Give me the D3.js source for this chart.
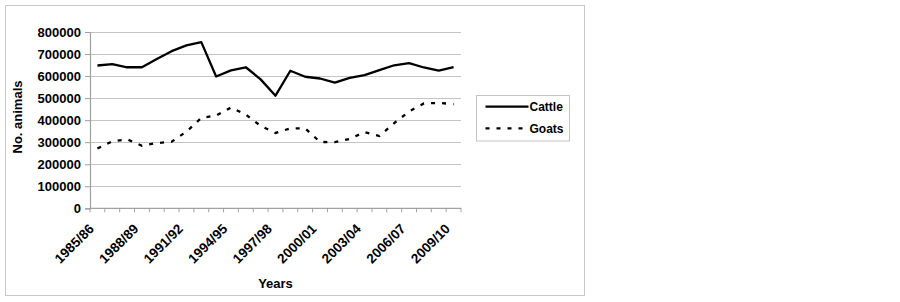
<!DOCTYPE html>
<html>
<head>
<meta charset="utf-8">
<script src="https://cdn.jsdelivr.net/npm/d3@7/dist/d3.min.js"></script>
<style>
  html, body { margin: 0; padding: 0; background: #fff; }
  svg text { font-family: "Liberation Sans", Arial, sans-serif; font-weight: bold; fill: #000; }
</style>
</head>
<body>
<svg id="chart" width="900" height="302"></svg>
<script>
const categories = ["1985/86","1986/87","1987/88","1988/89","1989/90","1990/91","1991/92","1992/93","1993/94","1994/95","1995/96","1996/97","1997/98","1998/99","1999/00","2000/01","2001/02","2002/03","2003/04","2004/05","2005/06","2006/07","2007/08","2008/09","2009/10"];
const cattle = [648000,654000,640000,640000,677000,713000,739000,754000,598000,626000,640000,585000,511000,624000,597000,589000,570000,592000,604000,627000,649000,659000,639000,625000,641000];
const goats  = [271000,304000,313000,284000,296000,302000,348000,410000,421000,457000,425000,374000,342000,363000,363000,301000,300000,315000,346000,328000,387000,439000,476000,478000,473000];
const yTicks = [0,100000,200000,300000,400000,500000,600000,700000,800000];
const xTickLabels = ["1985/86","1988/89","1991/92","1994/95","1997/98","2000/01","2003/04","2006/07","2009/10"];
const seriesNames = ["Cattle","Goats"];

(function () {
const svg = d3.select("#chart");

// outer chart border
svg.append("rect").attr("x",5.5).attr("y",5.5).attr("width",579).attr("height",290)
  .attr("fill","#fff").attr("stroke","#c8c8c8").attr("stroke-width",1);

const pL = 90, pR = 461, pT = 32, pB = 208.3;
const x = d3.scaleBand().domain(categories).range([pL, pR]).paddingInner(0).paddingOuter(0);
const y = d3.scaleLinear().domain([0, 800000]).range([pB, pT]);
const cx = c => x(c) + x.bandwidth()/2;

// gridlines
svg.append("g").selectAll("line").data(yTicks.filter(v => v > 0)).join("line")
  .attr("x1", pL).attr("x2", pR)
  .attr("y1", d => Math.round(y(d)) + 0.5).attr("y2", d => Math.round(y(d)) + 0.5)
  .attr("stroke", "#c4c4c4").attr("stroke-width", 1.2);

// y axis
const yAxis = d3.axisLeft(y).tickValues(yTicks).tickSize(5).tickPadding(4).tickFormat(d3.format("d"));
const gy = svg.append("g").attr("transform", `translate(${pL},0)`).call(yAxis);
gy.select(".domain").attr("stroke", "#a0a0a0").attr("stroke-width", 1.2);
gy.selectAll(".tick line").attr("stroke", "#a0a0a0");
gy.selectAll(".tick text").style("font-size", "13px").attr("font-weight", "bold")
  .attr("font-family", '"Liberation Sans", Arial, sans-serif').attr("fill", "#000");

// x axis line and ticks at category boundaries
svg.append("line").attr("x1", pL).attr("x2", pR).attr("y1", pB).attr("y2", pB)
  .attr("stroke", "#a0a0a0").attr("stroke-width", 1.2);
const boundaries = categories.map(c => x(c)).concat([pR]);
svg.append("g").selectAll("line").data(boundaries).join("line")
  .attr("x1", d => d).attr("x2", d => d).attr("y1", pB).attr("y2", pB + 4)
  .attr("stroke", "#a0a0a0");

// x tick labels rotated
svg.append("g").selectAll("text").data(xTickLabels).join("text")
  .attr("transform", d => `translate(${cx(d) - 6},${pB + 18}) rotate(-45)`)
  .attr("text-anchor", "end").attr("dy", "0.35em")
  .style("font-size", "13.5px").text(d => d);

// axis titles
svg.append("text").attr("x", (pL + pR)/2).attr("y", 288)
  .attr("text-anchor", "middle").style("font-size", "13px").text("Years");
svg.append("text").attr("transform", `translate(22,117) rotate(-90)`)
  .attr("text-anchor", "middle").style("font-size", "13px").text("No. animals");

// lines
const line = d3.line().x((d,i) => cx(categories[i])).y(d => y(d));
svg.append("path").datum(cattle).attr("d", line)
  .attr("fill", "none").attr("stroke", "#000").attr("stroke-width", 2.3).attr("stroke-linejoin", "round");
svg.append("path").datum(goats).attr("d", line)
  .attr("fill", "none").attr("stroke", "#000").attr("stroke-width", 2.3).attr("stroke-dasharray", "4,7");

// legend
const lg = svg.append("g");
lg.append("rect").attr("x", 476.5).attr("y", 95.5).attr("width", 93).attr("height", 45.5)
  .attr("fill", "#fff").attr("stroke", "#c4c4c4");
const dashes = [null, "4,7"];
seriesNames.forEach((name, i) => {
  const yy = 106.7 + i * 21.6;
  lg.append("line").attr("x1", 485.5).attr("x2", 528.5).attr("y1", yy).attr("y2", yy)
    .attr("stroke", "#000").attr("stroke-width", 2.3).attr("stroke-dasharray", dashes[i]);
  lg.append("text").attr("x", 529.5).attr("y", yy).attr("dy", "0.35em")
    .style("font-size", "12px").text(name);
});
})();
</script>
</body>
</html>
